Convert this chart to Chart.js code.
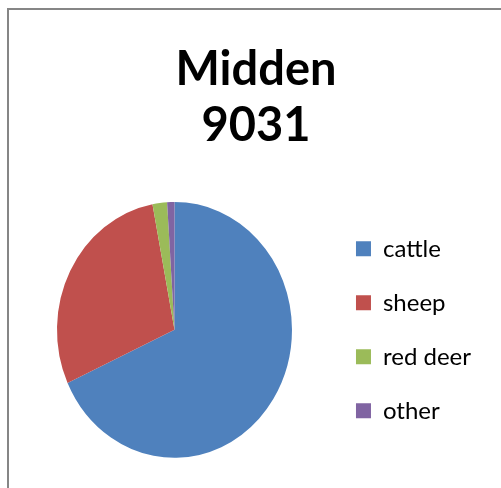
<!DOCTYPE html>
<html>
<head>
<meta charset="utf-8">
<script src="https://cdn.jsdelivr.net/npm/chart.js@4"></script>
<style>
    html, body { margin: 0; padding: 0; background: #fff; overflow: hidden; }
    #box {
        position: absolute;
        left: 7px;
        top: 8px;
        width: 498px;
        height: 480px;
        border-left: 2px solid #868686;
        border-top: 2px solid #868686;
    }
</style>
</head>
<body>
<div id="box"><canvas id="chart"></canvas></div>
<script>
const categories = ['cattle', 'sheep', 'red deer', 'other'];
const shares = [68.2, 28.8, 2.0, 1.0];
const sliceColors = ['#4F81BD', '#C0504D', '#9BBB59', '#8064A2'];
const titleLines = ['Midden', '9031'];

// the reference pie is a little taller than wide, so stretch it vertically
const stretchPie = {
    id: 'stretchPie',
    beforeDatasetsDraw(chart) {
        const arc = chart.getDatasetMeta(0).data[0];
        const ctx = chart.ctx;
        ctx.save();
        ctx.translate(arc.x, arc.y);
        ctx.scale(1, 1.089);
        ctx.translate(-arc.x, -arc.y);
    },
    afterDatasetsDraw(chart) {
        chart.ctx.restore();
    }
};

// give the legend a bit of empty room on its right side
const widenLegend = {
    id: 'widenLegend',
    beforeLayout(chart) {
        const legend = chart.legend;
        if (legend && !legend._widened) {
            const fit = legend.fit;
            legend.fit = function () {
                fit.call(this);
                this.width += 8;
            };
            legend._widened = true;
        }
    }
};

new Chart(document.getElementById('chart'), {
    type: 'pie',
    data: {
        labels: categories,
        datasets: [{
            data: shares,
            backgroundColor: sliceColors,
            borderWidth: 0,
            radius: 117.5
        }]
    },
    options: {
        responsive: true,
        maintainAspectRatio: false,
        animation: false,
        layout: {
            padding: { left: 14, right: 18, top: 0, bottom: 0 }
        },
        plugins: {
            title: {
                display: true,
                text: titleLines,
                color: '#000',
                font: { family: 'Lato', size: 47, weight: 'bold', lineHeight: 1.21 },
                padding: { top: 31, bottom: 15 }
            },
            legend: {
                position: 'right',
                align: 'center',
                fullSize: false,
                labels: {
                    boxWidth: 15,
                    boxHeight: 15,
                    padding: 30,
                    color: '#000',
                    font: { family: 'Lato', size: 24 }
                }
            },
            tooltip: { enabled: false }
        }
    },
    plugins: [stretchPie, widenLegend]
});
</script>
</body>
</html>
